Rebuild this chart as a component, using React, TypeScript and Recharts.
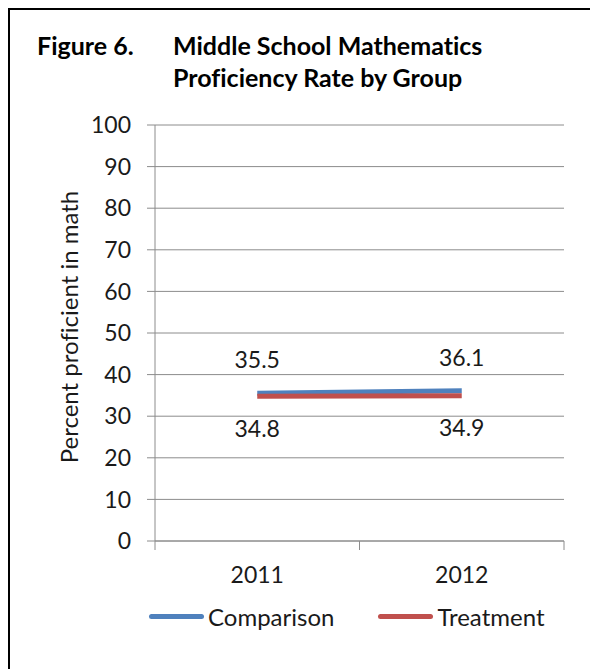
import React from "react";
import { LineChart, Line, XAxis, YAxis, CartesianGrid, LabelList } from "recharts";

const years = ["2011", "2012"];
const comparison = [35.5, 36.1];
const treatment = [34.8, 34.9];
const yTicks = [0, 10, 20, 30, 40, 50, 60, 70, 80, 90, 100];

const BLUE = "#4F81BD";
const RED = "#C0504D";
const GRID = "#8C8C8C";
const TEXT = "#1a1a1a";
const FONT = "Lato, 'Open Sans', sans-serif";
const NO_LIG: React.CSSProperties = { fontVariantLigatures: "none", fontFeatureSettings: '"liga" 0, "dlig" 0' };

// Each year sits in the middle of its band; band edges carry the tick marks.
const data = years.map((year, i) => ({
  pos: i + 0.5,
  year,
  comparison: comparison[i],
  treatment: treatment[i],
}));
const xTicks = [0, 0.5, 1, 1.5, 2];

const XTick = (props: any) => {
  const { x, y, payload } = props;
  const v = payload.value as number;
  if (Number.isInteger(v)) {
    return <line x1={x} x2={x} y1={y - 8} y2={y + 1} stroke={GRID} strokeWidth={1} />;
  }
  const label = years[Math.floor(v)];
  return (
    <text x={x} y={y + 34} textAnchor="middle" fontSize={23} fill={TEXT} fontFamily={FONT}>
      {label}
    </text>
  );
};

const LegendItem = ({ color, label }: { color: string; label: string }) => (
  <div style={{ display: "flex", alignItems: "center" }}>
    <div style={{ width: 55, height: 5, borderRadius: 3, background: color, marginRight: 4 }} />
    <span style={{ fontSize: 24, color: TEXT, fontFamily: FONT }}>{label}</span>
  </div>
);

const titleStyle: React.CSSProperties = {
  position: "absolute",
  top: 29,
  fontFamily: FONT,
  fontWeight: 700,
  fontSize: 25,
  color: "#000",
  lineHeight: "32px",
  ...NO_LIG,
};

export default function App() {
  return (
    <div style={{ position: "absolute", left: 0, top: 0, width: 590, height: 669, overflow: "hidden", background: "#fff" }}>
      <div
        style={{
          position: "absolute",
          left: 8,
          top: 8,
          width: 620,
          height: 700,
          border: "2px solid #000",
        }}
      />
      <div style={{ ...titleStyle, left: 37 }}>Figure 6.</div>
      <div style={{ ...titleStyle, left: 173 }}>
        Middle School Mathematics
        <br />
        Proficiency Rate by Group
      </div>
      <div style={{ position: "absolute", left: 0, top: 0 }}>
        <LineChart
          width={590}
          height={669}
          data={data}
          margin={{ top: 125, right: 26, bottom: 98, left: 95 }}
        >
          <CartesianGrid horizontal vertical={false} stroke={GRID} strokeWidth={1} />
          <XAxis
            dataKey="pos"
            type="number"
            domain={[0, 2]}
            ticks={xTicks}
            interval={0}
            tick={<XTick />}
            tickLine={false}
            axisLine={{ stroke: GRID }}
            height={30}
          />
          <YAxis
            domain={[0, 100]}
            ticks={yTicks}
            interval={0}
            width={60}
            axisLine={{ stroke: GRID }}
            tickLine={{ stroke: GRID }}
            tickSize={8}
            tickMargin={16}
            tick={{ fontSize: 23, fill: TEXT, fontFamily: FONT }}
            label={{
              value: "Percent proficient in math",
              angle: -90,
              position: "insideLeft",
              offset: -26,
              dx: 0,
              dy: -6,
              style: { fontSize: 24, fill: TEXT, fontFamily: FONT, textAnchor: "middle", ...NO_LIG },
            }}
          />
          <Line
            dataKey="comparison"
            stroke={BLUE}
            strokeWidth={5}
            dot={false}
            isAnimationActive={false}
          >
            <LabelList
              dataKey="comparison"
              position="top"
              offset={25}
              style={{ fontSize: 23, fill: TEXT, fontFamily: FONT }}
            />
          </Line>
          <Line
            dataKey="treatment"
            stroke={RED}
            strokeWidth={5}
            dot={false}
            isAnimationActive={false}
          >
            <LabelList
              dataKey="treatment"
              position="bottom"
              offset={24}
              style={{ fontSize: 23, fill: TEXT, fontFamily: FONT }}
            />
          </Line>
        </LineChart>
      </div>
      <div style={{ position: "absolute", left: 149, top: 602, display: "flex", gap: 44 }}>
        <LegendItem color={BLUE} label="Comparison" />
        <LegendItem color={RED} label="Treatment" />
      </div>
    </div>
  );
}
